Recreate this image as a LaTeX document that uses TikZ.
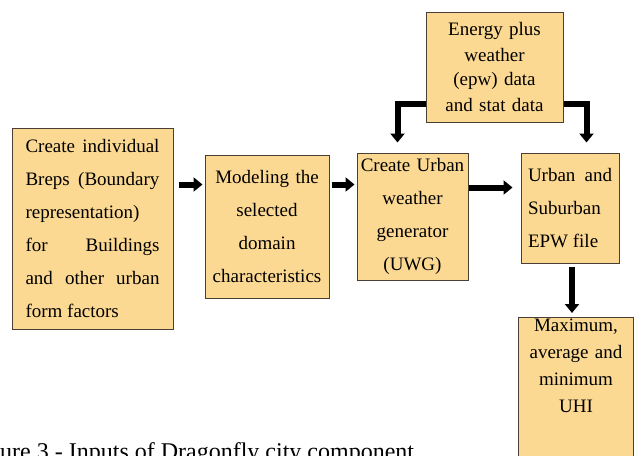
\documentclass[tikz,border=0pt]{standalone}
\usepackage{fontspec}
\setmainfont{Liberation Serif}
\usetikzlibrary{calc, arrows.meta}
\definecolor{boxfill}{HTML}{FCD992}
\definecolor{boxline}{HTML}{4A3F36}

\begin{document}
\begin{tikzpicture}[x=1pt, y=-1pt]
    \tikzstyle{stage} = [rectangle, draw=boxline, line width=1pt, fill=boxfill, inner ysep=0pt, font=\fontsize{19}{33}\selectfont]
    \tikzstyle{flow} = [line width=6pt, -{Triangle[length=9pt, width=14pt]}]

    \useasboundingbox (0, 0) rectangle (636, 455);
    \clip (0, 0) rectangle (636, 455);

    % Stages ----------------------------------------
    \node (breps) at (92.5, 228.5) [stage, text width=134pt, inner xsep=13.5pt, minimum height=201pt, align=justify] {Create individual\linebreak Breps (Boundary\linebreak representation)\linebreak for Buildings\linebreak and other urban\linebreak form factors};
    \node (model) at (267, 226.5) [stage, text width=112pt, inner xsep=6pt, minimum height=143pt, align=center] {Modeling the\\ selected\\ domain\\ characteristics};
    \node (uwg) at (412.5, 216.5) [stage, text width=104pt, inner xsep=3.5pt, minimum height=127pt, align=center] {Create Urban\\ weather\\ generator\\ (UWG)};
    \node (epw) at (494.5, 67) [stage, text width=121pt, inner xsep=8pt, minimum height=110pt, align=center, font=\fontsize{19}{25}\selectfont] {Energy plus\\ weather\\ (epw) data\\ and stat data};
    \node (urban) at (570, 208) [stage, text width=84pt, inner xsep=7pt, minimum height=110pt, align=justify] {Urban and\linebreak Suburban\linebreak EPW file};
    \node (uhi) at (576, 317) [stage, anchor=north, text width=104pt, inner xsep=5.5pt, inner ysep=1.5pt, text depth=150pt, align=center, font=\fontsize{19}{27}\selectfont] {Maximum,\\ average and\\ minimum\\ UHI};
    % ---------------------------------------------------

    % Caption (cut off by the page) ---------------------
    \node (caption) at (0, 459.5) [anchor=base west, inner sep=0pt, font=\fontsize{24}{28}\selectfont] {ure 3 - Inputs of Dragonfly city component};

    % Flow between stages -------------------------------
    \draw [flow] ($(breps.north east) + (5, 57)$) -- ($(model.north west) + (-2, 30)$);
    \draw [flow] ($(model.north east) + (2, 30)$) -- ($(uwg.north west) + (-2, 32)$);
    \draw [flow] ($(uwg.north east) + (0, 35)$) -- ($(urban.north west) + (-8, 35)$);
    \draw [flow] ($(epw.south west) + (0, -19)$) -| ($(uwg.north west) + (41, -10)$);
    \draw [flow] ($(epw.south east) + (0, -19)$) -| ($(urban.north west) + (66, -10)$);
    \draw [flow] ($(urban.south) + (2, 3)$) -- ($(urban.south |- uhi.north) + (2, -4)$);
\end{tikzpicture}
\end{document}
